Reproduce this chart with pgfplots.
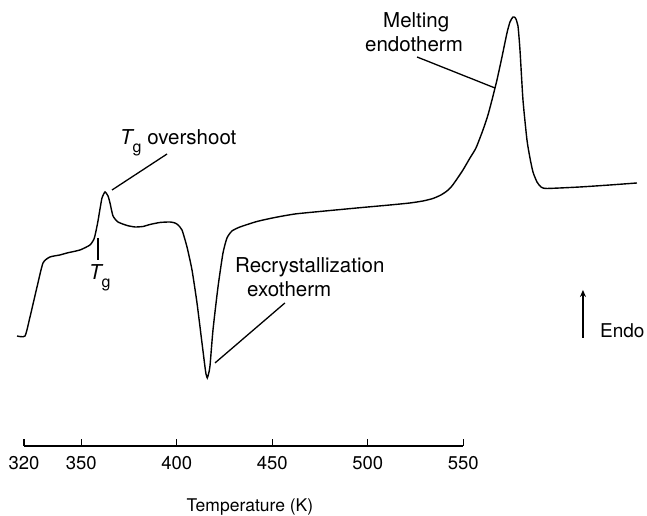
\documentclass[border=0pt]{standalone}
\usepackage{pgfplots}
\pgfplotsset{compat=1.18}
\usetikzlibrary{arrows.meta}
\usepackage{fontspec}
\setmainfont{TeX Gyre Heros}

% DSC trace: temperature (K) against heat flow (arbitrary units, endo up)
\pgfplotstableread{
T       q
316.34  110
320.52  110
323.14  129
326.81  159
329.95  183
333.61  189
338.85  191
342.51  193
349.32  196
354.55  201
356.65  207
357.70  215
358.74  225
359.79  237
360.84  248
362.41  254
363.98  250
365.03  243
366.60  230
369.21  224
373.93  220.5
378.12  219
382.30  219.5
385.97  221.5
391.20  223.5
396.44  224
399.06  223
400.63  221
402.72  216
405.34  199
407.96  176
410.58  143
413.19  103
414.76  79
415.29  72
415.97  68
416.60  72
417.38  80
418.95  116
421.57  159
424.19  193
426.28  208
428.90  215
433.09  219
441.99  224.5
451.41  228.5
461.88  232
474.97  234.5
494.35  238
511.62  241
522.09  243
528.90  245
534.14  247.5
538.32  251
541.47  255
544.08  260
546.70  267
549.84  276
553.51  288
556.65  298
560.31  316
562.93  331
565.03  346
567.64  366
570.26  389
572.88  413
574.45  424
576.02  429
577.33  428
578.64  420
579.69  396
581.26  346
583.35  306
584.92  288
586.49  274
588.59  264
590.68  259
593.82  257.5
611.10  259
626.81  261
640.94  263
}\dsc

\begin{document}
\begin{tikzpicture}
\begin{axis}[
  x=1.91bp, y=1bp,
  xmin=320, xmax=550, ymin=0, ymax=446,
  axis x line=bottom, axis y line=none,
  x axis line style={-, line width=1.1bp},
  xtick={320,350,400,450,500,550},
  minor tick num=0,
  tick align=inside, major tick length=7bp,
  every tick/.style={black, line width=1.1bp},
  xticklabel style={font=\fontsize{18.5bp}{21bp}\selectfont, yshift=-7bp},
  /pgf/number format/assume math mode=true,
  scaled x ticks=false,
  clip=false,
]
\addplot[line width=1.4bp, smooth, tension=0.35] table[x=T, y=q] {\dsc};

% leader lines and labels
\draw[line width=1.3bp] (axis cs:366.1,256) -- (axis cs:394.9,292);
\node[anchor=base west, inner sep=0pt, font=\fontsize{20.5bp}{24bp}\selectfont]
  at (axis cs:370.26,301) {\itshape T\upshape\raisebox{-8bp}{\fontsize{16bp}{16bp}\selectfont g}\ overshoot};

\draw[line width=1.3bp] (axis cs:358.74,208) -- (axis cs:358.74,186);
\node[anchor=base west, inner sep=0pt, font=\fontsize{20.5bp}{24bp}\selectfont]
  at (axis cs:354.0,166) {\itshape T\upshape\raisebox{-8bp}{\fontsize{16bp}{16bp}\selectfont g}};

\draw[line width=1.3bp] (axis cs:456.6,143) -- (axis cs:420.0,83);
\node[anchor=base west, inner sep=0pt, font=\fontsize{20.5bp}{24bp}\selectfont]
  at (axis cs:430.47,173) {Recrystallization};
\node[anchor=base west, inner sep=0pt, font=\fontsize{20.5bp}{24bp}\selectfont]
  at (axis cs:436.75,149) {exotherm};

\draw[line width=1.3bp] (axis cs:525.8,389) -- (axis cs:566.6,358);
\node[anchor=base west, inner sep=0pt, font=\fontsize{20.5bp}{24bp}\selectfont]
  at (axis cs:507.96,418) {Melting};
\node[anchor=base west, inner sep=0pt, font=\fontsize{20.5bp}{24bp}\selectfont]
  at (axis cs:498.53,394) {endotherm};

\draw[line width=1.3bp, -{Stealth[length=7bp, width=6bp]}] (axis cs:612.67,108) -- (axis cs:612.67,156);
\node[anchor=base west, inner sep=0pt, font=\fontsize{19bp}{22bp}\selectfont]
  at (axis cs:621.57,108) {Endo};

\node[anchor=base, inner sep=0pt, font=\fontsize{17.5bp}{20bp}\selectfont]
  at (axis cs:438.3,-66) {Temperature (K)};

\coordinate (bl) at (axis cs:307.43,-70);
\coordinate (tr) at (axis cs:646.2,446);
\end{axis}
\pgfresetboundingbox
\path[use as bounding box] (bl) rectangle (tr);
\end{tikzpicture}
\end{document}
